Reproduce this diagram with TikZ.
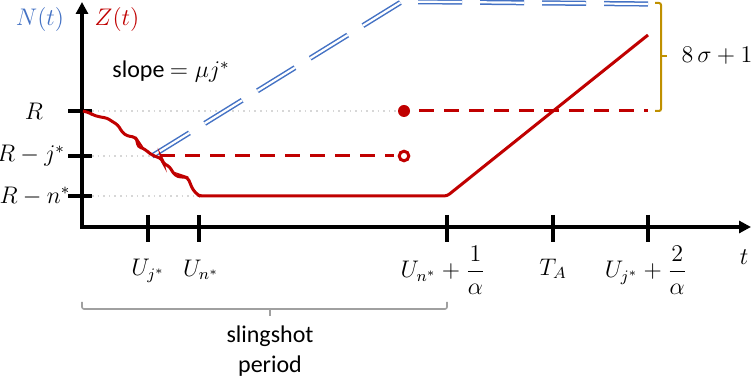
\documentclass[tikz,border=0pt]{standalone}
\usepackage{fontspec}
\setmainfont{Carlito}
\usepackage{mathtools}
\usetikzlibrary{arrows.meta}
\definecolor{zred}{RGB}{192,0,0}
\definecolor{nblue}{RGB}{68,114,196}
\definecolor{bracegold}{RGB}{191,144,0}
\definecolor{guidegray}{RGB}{215,215,215}
\definecolor{bracegray}{RGB}{160,160,160}
\begin{document}
\begin{tikzpicture}[x=0.5pt,y=-0.5pt,font=\fontsize{12}{15}\selectfont,
	axis/.style={line width=2pt,-{Triangle[length=6pt,width=6pt]}},
	tickmark/.style={line width=2pt},
	zline/.style={color=zred,line width=1.5pt},
	zdash/.style={zline,dash pattern=on 7.5pt off 5pt},
	nline/.style={draw=nblue,double=white,line width=0.75pt,double distance=1.1pt,dash pattern=on 22pt off 9pt},
	guide/.style={color=guidegray,dotted,line width=0.8pt}]
	\useasboundingbox (0,0) rectangle (753,383);
	% dotted guides from the vertical axis
	\draw[guide] (92,111) -- (396,111);
	\draw[guide] (92,156) -- (150,156);
	\draw[guide] (92,196) -- (198,196);
	% axes and ticks
	\draw[axis] (82,229) -- (82,2);
	\draw[axis] (80,227) -- (751,227);
	\foreach \y in {111,156,196} {
		\draw[tickmark] (68,\y) -- (92,\y);
	}
	\foreach \x in {148,199,447,553,648} {
		\draw[tickmark] (\x,215) -- (\x,242);
	}
	% N(t): double dashed line
	\draw[nline] (152,156) -- (402,1.5) -- (648,4);
	% Z(t): staircase, flat part, linear growth
	\draw[zline,rounded corners=1.5pt] (83,111) -- (90,113) -- (93,115) -- (100,117) -- (107,118) -- (113,122)
		-- (118,125) -- (122,132) -- (127,136) -- (135,137) -- (137,140) -- (138,147) -- (143,148)
		-- (148,152) -- (152,155) -- (157,157) -- (162,159) -- (163,163) -- (170,167) -- (173,173)
		-- (178,177) -- (185,177) -- (188,178) -- (190,183) -- (193,190) -- (198,195) -- (200,196)
		-- (447,196) -- (648,35);
	\draw[zdash] (160,156) -- (394,156);
	\draw[zdash] (419,111) -- (648,111);
	\draw[zline,fill=white] (404,156) circle (2.4pt);
	\fill[color=zred] (404,111) circle (3pt);
	% braces
	\draw[color=bracegold,line width=1pt,rounded corners=1pt] (655,3) -| (661,111) -- (655,111);
	\draw[color=bracegold,line width=1pt] (661,56) -- (667,56);
	\draw[color=bracegray,line width=0.8pt,rounded corners=1pt] (82,302) |- (447,309) -- (447,302);
	\draw[color=bracegray,line width=0.8pt] (270,309) -- (270,316);
	% labels
	\node[color=nblue] (labN) at (40,20) {$N(t)$};
	\node[color=zred] (labZ) at (117,20) {$Z(t)$};
	\node (labSlope) at (171,72) {slope $=\mu j^{*}$};
	\node (labR) at (34,111) {$R$};
	\node (labRj) at (31,156) {$R-j^{*}$};
	\node (labRn) at (35,196) {$R-n^{*}$};
	\node (labUj) at (148,271) {$U_{j^{*}}$};
	\node (labUn) at (201,270) {$U_{n^{*}}$};
	\node (labUa) at (443,270) {$U_{n^{*}}+\dfrac{1}{\alpha}$};
	\node (labTA) at (553,269) {$T_{A}$};
	\node (labUb) at (646,270) {$U_{j^{*}}+\dfrac{2}{\alpha}$};
	\node (labt) at (744,257) {$t$};
	\node (labSig) at (717,56) {$8\,\sigma+1$};
	\node[align=center] (labSling) at (270,351) {slingshot\\period};
\end{tikzpicture}
\end{document}
